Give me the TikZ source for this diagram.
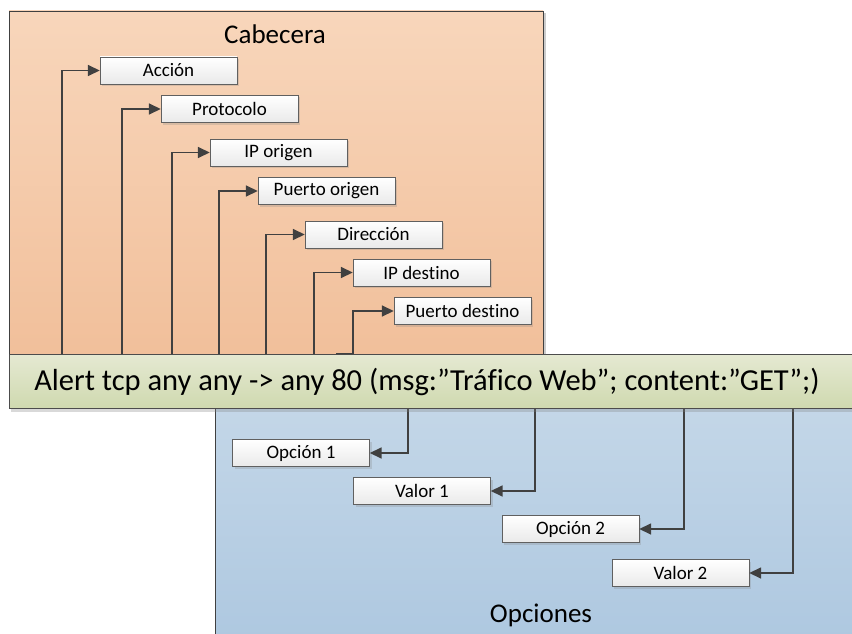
\documentclass[tikz,border=0pt]{standalone}
\usepackage{fontspec}
\setmainfont{Carlito}[Ligatures=NoCommon]
\usetikzlibrary{shadows,arrows.meta}

\definecolor{linea}{HTML}{404040}
\definecolor{naranjaA}{HTML}{F8D6BB}
\definecolor{naranjaB}{HTML}{F1BF9A}
\definecolor{azulA}{HTML}{C4D7E8}
\definecolor{azulB}{HTML}{AEC8E0}
\definecolor{verdeA}{HTML}{E5E9D2}
\definecolor{verdeB}{HTML}{CFD9AF}

\tikzset{
  campo/.style={draw=gray!75!black, top color=white, bottom color=gray!17,
    minimum width=137pt, minimum height=27pt, inner sep=0pt,
    font=\fontsize{19}{21}\selectfont,
    drop shadow={shadow xshift=2pt, shadow yshift=-2pt, opacity=0.25}},
  flecha/.style={draw=linea, line width=1.6pt, -{Triangle[length=12pt,width=11pt]}},
  titulo/.style={font=\fontsize{27}{29}\selectfont}
}

\begin{document}
\begin{tikzpicture}[x=1pt, y=-1pt]
\clip (0,0) rectangle (852,634);

% ── Cabecera ──
\fill[gray!40] (11,13) rectangle (546,362);
\fill[top color=naranjaA, bottom color=naranjaB, draw=linea] (9,11) rectangle (543,360);
\node[titulo] (cabecera) at (275,34) {Cabecera};

% ── Opciones ──
\fill[top color=azulA, bottom color=azulB] (215,400) rectangle (860,640);
\draw[linea] (215,400) -- (215,640);
\node[titulo] (opciones) at (541,615) {Opciones};

% Campos de la cabecera
\node[campo] (accion) at (168.5,70.5) {Acción};
\node[campo] (protocolo) at (229.5,109) {Protocolo};
\node[campo] (iporigen) at (278.5,152.5) {IP origen};
\node[campo] (puertoorigen) at (326.5,191) {Puerto origen};
\node[campo] (direccion) at (373.5,234.5) {Dirección};
\node[campo] (ipdestino) at (421.5,272.5) {IP destino};
\node[campo] (puertodestino) at (462.5,311) {Puerto destino};

% Campos de las opciones
\node[campo] (opcion1) at (301,453) {Opción 1};
\node[campo] (valor1) at (422,491) {Valor 1};
\node[campo] (opcion2) at (570.5,529) {Opción 2};
\node[campo] (valor2) at (680.5,573) {Valor 2};

% Puntos de salida sobre la regla
\coordinate (h1) at (62,356);
\coordinate (h2) at (122,356);
\coordinate (h3) at (172,356);
\coordinate (h4) at (219,356);
\coordinate (h5) at (266,356);
\coordinate (h6) at (314,356);
\coordinate (h7) at (336,354);
\coordinate (o1) at (408,405);
\coordinate (o2) at (535,405);
\coordinate (o3) at (684,405);
\coordinate (o4) at (793,405);

% Conectores de la cabecera
\draw[flecha] (h1) |- (accion.west);
\draw[flecha] (h2) |- (protocolo.west);
\draw[flecha] (h3) |- (iporigen.west);
\draw[flecha] (h4) |- (puertoorigen.west);
\draw[flecha] (h5) |- (direccion.west);
\draw[flecha] (h6) |- (ipdestino.west);
\draw[flecha] (h7) -- ++(17,0) |- (puertodestino.west);

% Conectores de las opciones
\draw[flecha] (o1) |- (opcion1.east);
\draw[flecha] (o2) |- (valor1.east);
\draw[flecha] (o3) |- (opcion2.east);
\draw[flecha] (o4) |- (valor2.east);

% Regla completa
\node[draw=gray!60!black, top color=verdeA, bottom color=verdeB,
  minimum width=860pt, minimum height=54pt, inner sep=0pt, anchor=west,
  drop shadow={shadow xshift=2pt, shadow yshift=-3pt, opacity=0.3}]
  (regla) at (9,381.5) {};
\node[font=\fontsize{30.5}{32}\selectfont] (texto) at (427,381.5)
  {Alert tcp any any -> any 80 (msg:”Tráfico Web”; content:”GET”;)};

\end{tikzpicture}
\end{document}
